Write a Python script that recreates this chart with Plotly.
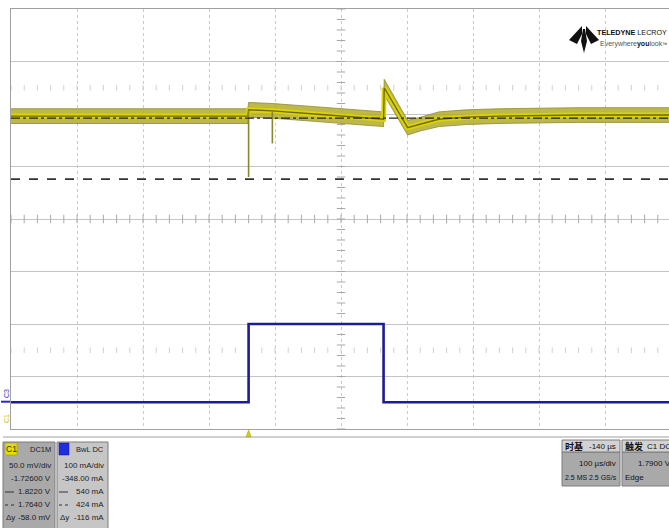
import plotly.graph_objects as go

# ---------------- data ----------------
# C1 : voltage, 50 mV/div, offset -1.726 V ; time in microseconds
c1_t   = [-360, -200, -100, -1,    0,     36,    100,   200,   204.5, 205.5, 241,   261,    288,   330,   380,   500,   637]
c1_mid = [1.824, 1.824, 1.824, 1.824, 1.830, 1.829, 1.826, 1.821, 1.821, 1.851, 1.813, 1.8165, 1.821, 1.823, 1.824, 1.825, 1.825]
c1_max = [1.831, 1.831, 1.831, 1.831, 1.837, 1.836, 1.833, 1.828, 1.828, 1.859, 1.820, 1.823,  1.828, 1.830, 1.831, 1.832, 1.832]
c1_min = [1.817, 1.817, 1.817, 1.817, 1.823, 1.822, 1.819, 1.814, 1.814, 1.844, 1.806, 1.810,  1.814, 1.816, 1.817, 1.818, 1.818]
c1_spike_t    = [0, 36]
c1_spike_from = [1.830, 1.829]
c1_spike_to   = [1.766, 1.798]

# C3 : current, 100 mA/div, offset -348 mA
c3_t  = [-360, 0, 0, 204.5, 204.5, 637]
c3_ma = [-1, -1, 148, 148, -1, -1]

# horizontal cursors (V)
cursor_v = [1.8220, 1.7640]

# scope settings
c1_center, c1_div = 1.726, 0.05
c3_center, c3_div = 348, 100
t_left, t_div = -360, 100
t_center = 140

# panel texts
c1_lines = ["50.0 mV/div", "-1.72600 V", "1.8220 V", "1.7640 V", "-58.0 mV"]
c3_lines = ["100 mA/div", "-348.00 mA", "540 mA", "424 mA", "-116 mA"]

# ---------------- geometry helpers ----------------
W, H = 669, 528
PL, PT, PR, PB = 11, 9, 669, 429


def fx(px):
    return (px - PL) / (PR - PL)


def fy(py):
    return (PB - py) / (PB - PT)


FN = "Liberation Sans, Arial, sans-serif"
CJK = "Noto Sans CJK SC"

fig = go.Figure()

# center-axis tick marks (graticule decoration)
tick_x = [t_left + k * t_div / 5 for k in range(0, 50)]
tick_y = [c1_center - 4 * c1_div + k * c1_div / 5 for k in range(0, 41)]
fig.add_trace(go.Scatter(x=tick_x, y=[c1_center] * len(tick_x), mode="markers",
                         marker=dict(symbol="line-ns", size=6, line=dict(color="#a8a8a8", width=1)),
                         hoverinfo="skip", showlegend=False))
for row in (c1_center + 2.5 * c1_div, c1_center - 2.5 * c1_div):
    fig.add_trace(go.Scatter(x=tick_x, y=[row] * len(tick_x), mode="markers",
                             marker=dict(symbol="line-ns", size=4, line=dict(color="#d0d0d0", width=1)),
                             hoverinfo="skip", showlegend=False))
fig.add_trace(go.Scatter(x=[t_center] * len(tick_y), y=tick_y, mode="markers",
                         marker=dict(symbol="line-ew", size=6, line=dict(color="#a8a8a8", width=1)),
                         hoverinfo="skip", showlegend=False))

# C3 blue trace
fig.add_trace(go.Scatter(x=c3_t, y=c3_ma, yaxis="y2", mode="lines",
                         line=dict(color="#1c1c98", width=2.6), hoverinfo="skip", showlegend=False))

# C1 band
fig.add_trace(go.Scatter(x=c1_t, y=c1_max, mode="lines", line=dict(color="#8e8a2a", width=0.8),
                         hoverinfo="skip", showlegend=False))
fig.add_trace(go.Scatter(x=c1_t, y=c1_min, mode="lines", line=dict(color="#8e8a2a", width=0.8),
                         fill="tonexty", fillcolor="rgba(178,172,40,0.85)", hoverinfo="skip", showlegend=False))
fig.add_trace(go.Scatter(x=c1_t, y=c1_mid, mode="lines", line=dict(color="#dcd400", width=5),
                         hoverinfo="skip", showlegend=False))
fig.add_trace(go.Scatter(x=c1_t, y=c1_mid, mode="lines", line=dict(color="#6e6a08", width=1.4),
                         hoverinfo="skip", showlegend=False))
sx, sy = [], []
for t, a, b in zip(c1_spike_t, c1_spike_from, c1_spike_to):
    sx += [t, t, None]
    sy += [a, b, None]
fig.add_trace(go.Scatter(x=sx, y=sy, mode="lines", line=dict(color="#8a8630", width=1.6),
                         hoverinfo="skip", showlegend=False))

shapes = []
# cursors
shapes.append(dict(type="line", xref="paper", x0=0, x1=1, yref="y", y0=cursor_v[0], y1=cursor_v[0],
                   line=dict(color="#222222", width=1.3, dash="dashdot")))
shapes.append(dict(type="line", xref="paper", x0=0, x1=1, yref="y", y0=cursor_v[1], y1=cursor_v[1],
                   line=dict(color="#333333", width=1.6, dash="dash")))
# trigger position marker
shapes.append(dict(type="path", xref="x", yref="paper",
                   path=f"M -4,{fy(437)} L 4,{fy(437)} L 0,{fy(430)} Z",
                   fillcolor="#d8d000", line=dict(color="#a8a000", width=0.5)))
# panel separator
shapes.append(dict(type="line", xref="paper", yref="paper", x0=fx(3), x1=fx(669), y0=fy(437), y1=fy(437),
                   line=dict(color="#a0a0a0", width=1)))


def rect(x0, x1, y0, y1, fill, line="#7c7c7c", lw=1):
    shapes.append(dict(type="rect", xref="paper", yref="paper", x0=fx(x0), x1=fx(x1), y0=fy(y0), y1=fy(y1),
                       fillcolor=fill, line=dict(color=line, width=lw)))


def seg(x0, x1, y, dash, color="#333333"):
    shapes.append(dict(type="line", xref="paper", yref="paper", x0=fx(x0), x1=fx(x1), y0=fy(y), y1=fy(y),
                       line=dict(color=color, width=1, dash=dash)))


# C1 box
rect(3, 55, 442, 530, "#a9a9a9")
rect(5, 17, 443, 455, "#e2dc10", "#9a9600", 0.5)
seg(5, 14, 492, "solid")
seg(5, 14, 505, "dot")
# C3 box
rect(57, 108, 442, 530, "#c6c6c6")
rect(59, 69, 443, 455, "#1f2fe0", "#10108a", 0.5)
seg(59, 68, 492, "solid")
seg(59, 68, 505, "dot")
# timebase box
rect(562, 620, 452, 486, "#a9a9a9")
rect(562, 620, 440, 452, "#d2d2d2")
# trigger box
rect(622, 680, 452, 486, "#a9a9a9")
rect(622, 680, 440, 452, "#d2d2d2")
# C3 ground marker
shapes.append(dict(type="line", xref="paper", yref="y2", x0=fx(1), x1=fx(10), y0=0, y1=0,
                   line=dict(color="#2a2ac8", width=2)))


# logo
def poly(pts, color="#111111"):
    p = "M " + " L ".join(f"{fx(a)},{fy(b)}" for a, b in pts) + " Z"
    return dict(type="path", xref="paper", yref="paper", path=p, fillcolor=color, line=dict(width=0))


shapes.append(poly([(582, 26), (569, 40), (577, 44), (582, 34)]))
shapes.append(poly([(586, 26), (599, 40), (591, 44), (586, 34)]))
shapes.append(poly([(583, 29), (585, 29), (587, 41), (584, 53), (581, 41)]))

ann = []


def text(s, px, py, anchor="left", size=9, color="#111111", font=FN, **kw):
    ann.append(dict(text=s, x=fx(px), y=fy(py), xref="paper", yref="paper", xanchor=anchor,
                    yanchor="middle", showarrow=False, font=dict(family=font, size=size, color=color), **kw))


text("<b>TELEDYNE</b> LECROY", 669, 32, anchor="right", size=7.2)
text("<span style='color:#555'>Everywhere</span><b>you</b><span style='color:#555'>look</span>"
     "<span style='font-size:5px'>™</span>", 669, 44, anchor="right", size=7)

# C1 panel
text("C1", 11, 449, anchor="center", size=8.5, color="#333300")
text("DC1M", 53, 449, anchor="right", size=7.5, color="#222222")
for i, s in enumerate(c1_lines):
    text(s, 53, 466 + i * 12.8, anchor="right", size=8, color="#1c1c1c")
text("Δy", 4, 517, size=8, color="#222222")
# C3 panel
text("BwL DC", 106, 449, anchor="right", size=7.5, color="#222222")
for i, s in enumerate(c3_lines):
    text(s, 106, 466 + i * 12.8, anchor="right", size=8, color="#1c1c1c")
text("Δy", 58, 517, size=8, color="#222222")
# timebase
text("<b>时基</b>", 563, 446, size=9, font=CJK)
text("-140 µs", 618, 446, anchor="right", size=8)
text("100 µs/div", 618, 464, anchor="right", size=8)
text("2.5 MS", 563, 477, size=7)
text("2.5 GS/s", 619, 477, anchor="right", size=7)
# trigger
text("<b>触发</b>", 623, 446, size=9, font=CJK)
text("C1 DC", 673, 446, anchor="right", size=8)
text("1.7900 V", 673, 464, anchor="right", size=8)
text("Edge", 623, 477, size=8)
# left markers
text("C3", 6, 394, anchor="center", size=7, color="#3030c0", textangle=-90)
text("C1", 6, 419, anchor="center", size=7, color="#c8c000", textangle=-90)

fig.update_layout(
    width=W, height=H,
    margin=dict(l=PL, r=W - PR, t=PT, b=H - PB, pad=0),
    paper_bgcolor="white", plot_bgcolor="white",
    showlegend=False,
    xaxis=dict(range=[t_left, t_left + (PR - PL) / 0.66], tick0=t_left, dtick=t_div,
               showgrid=True, gridcolor="#cacaca", griddash="dot", gridwidth=1,
               showticklabels=False, ticks="", zeroline=False,
               showline=True, mirror=True, linecolor="#a0a0a0", linewidth=1),
    yaxis=dict(range=[c1_center - 4 * c1_div, c1_center + 4 * c1_div], tick0=c1_center - 4 * c1_div,
               dtick=c1_div, showgrid=True, gridcolor="#c4c4c4", gridwidth=1,
               showticklabels=False, ticks="", zeroline=False,
               showline=True, mirror=False, linecolor="#a0a0a0", linewidth=1),
    yaxis2=dict(range=[c3_center - 4 * c3_div, c3_center + 4 * c3_div], overlaying="y",
                visible=False, showgrid=False, zeroline=False),
    shapes=shapes,
    annotations=ann,
)

fig.write_html("out.html", config={"displayModeBar": False},
               post_script="document.body.style.margin='0';document.body.style.overflow='hidden';")
